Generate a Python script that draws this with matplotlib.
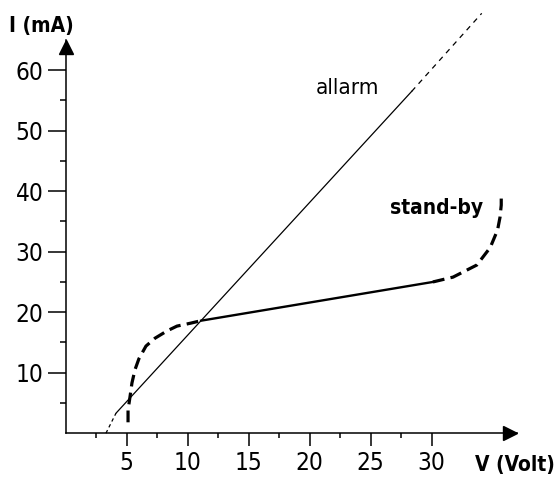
"""I-V characteristic: allarm and stand-by"""

import matplotlib
matplotlib.use('Agg')
import matplotlib.pyplot as plt

# allarm curve (V, mA)
allarm_low_v = [3.3, 4.12]
allarm_low_i = [0.0, 3.3]
allarm_v = [4.12, 28.36]
allarm_i = [3.3, 56.5]
allarm_ext_v = [28.36, 34.1]
allarm_ext_i = [56.5, 69.4]

# stand-by curve (V, mA)
standby_low_v = [5.11, 5.11, 5.27, 5.43, 5.68, 6.0, 6.58, 7.32, 8.3, 9.12, 10.27, 11.1]
standby_low_i = [1.8, 3.83, 6.0, 8.3, 10.5, 12.3, 14.4, 15.7, 16.9, 17.7, 18.2, 18.6]
standby_v = [11.1, 30.1]
standby_i = [18.6, 25.0]
standby_high_v = [30.1, 31.75, 33.7, 34.8, 35.4, 35.6, 35.7, 35.7]
standby_high_i = [25.0, 25.8, 27.8, 30.7, 33.6, 35.7, 37.7, 39.8]

x_ticks = [5, 10, 15, 20, 25, 30]
y_ticks = [10, 20, 30, 40, 50, 60]

plt.rcParams['font.family'] = ['DejaVu Sans']
plt.rcParams['font.stretch'] = 'condensed'
plt.rcParams['lines.scale_dashes'] = False

fig = plt.figure(figsize=(5.6, 4.79), dpi=100)
W, H = 560, 479
x0, y0 = 65.7, 433.2
px_v, px_i = 12.2, 6.05
xmax, ymax = 37.0, 65.0
ax = fig.add_axes([x0 / W, (H - y0) / H, xmax * px_v / W, ymax * px_i / H])
ax.set_xlim(0, xmax)
ax.set_ylim(0, ymax)

for side in ('top', 'right'):
    ax.spines[side].set_visible(False)
for side in ('left', 'bottom'):
    ax.spines[side].set_linewidth(1.1)

ax.set_xticks(x_ticks)
ax.set_yticks(y_ticks)
ax.set_xticks([2.5, 7.5, 12.5, 17.5, 22.5, 27.5], minor=True)
ax.set_yticks([5, 15, 25, 35, 45, 55], minor=True)
ax.tick_params(axis='x', which='major', direction='out', length=9.5, width=1.1,
               pad=3, labelsize=17.5)
ax.tick_params(axis='x', which='minor', direction='out', length=3.6, width=1.1)
ax.tick_params(axis='y', which='major', direction='out', length=13, width=1.1,
               pad=3, labelsize=17.5)
ax.tick_params(axis='y', which='minor', direction='out', length=4.3, width=1.1)

# axis arrows
ax.plot(xmax - 7 / px_v, 0, marker='>', ms=10, color='black', clip_on=False)
ax.plot(0, ymax - 7 / px_i, marker='^', ms=10, color='black', clip_on=False)

# allarm
ax.plot(allarm_low_v, allarm_low_i, color='black', lw=0.9, dashes=(2.5, 2.2), clip_on=False)
ax.plot(allarm_v, allarm_i, color='black', lw=0.9, clip_on=False)
ax.plot(allarm_ext_v, allarm_ext_i, color='black', lw=0.9, dashes=(3.8, 3.6), clip_on=False)

# stand-by
ax.plot(standby_low_v, standby_low_i, color='black', lw=2.3, dashes=(8.5, 4.5),
        clip_on=False)
ax.plot(standby_v, standby_i, color='black', lw=1.7, clip_on=False)
ax.plot(standby_high_v, standby_high_i, color='black', lw=2.3, dashes=(8.5, 4.5),
        clip_on=False)

ax.text(23.1, 57.1, 'allarm', ha='center', va='center', fontsize=16)
ax.text(30.4, 37.3, 'stand-by', ha='center', va='center', fontsize=15, fontweight='bold')

fig.text(41 / W, 1 - 26 / H, 'I (mA)', ha='center', va='center', fontsize=15,
         fontweight='bold')
fig.text(515 / W, 1 - 465 / H, 'V (Volt)', ha='center', va='center', fontsize=15,
         fontweight='bold')

fig.savefig('out.png', dpi=100)
